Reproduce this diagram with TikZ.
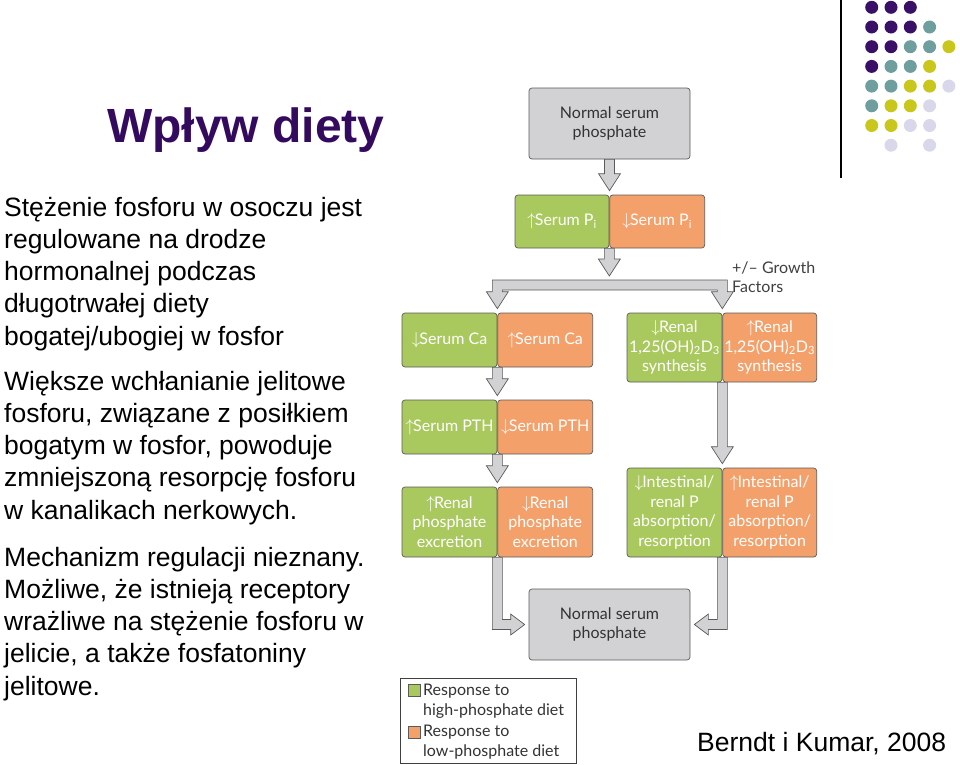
\documentclass[tikz,border=0pt]{standalone}
\usepackage{fontspec}
\setmainfont{Liberation Sans}
\newfontfamily\figfont{Lato}
\usetikzlibrary{calc}

\definecolor{hiphos}{HTML}{A9C95E}
\definecolor{lophos}{HTML}{F4A06B}
\definecolor{normbox}{HTML}{D2D2D4}
\definecolor{boxline}{HTML}{5A5A5A}
\definecolor{titlecol}{HTML}{330A5E}
\definecolor{dotP}{HTML}{3A0F68}
\definecolor{dotT}{HTML}{6F9E9F}
\definecolor{dotY}{HTML}{C9C71C}
\definecolor{dotL}{HTML}{D9D8EA}

\newcommand{\arrup}{$\uparrow$\kern-1pt}
\newcommand{\arrdn}{$\downarrow$\kern-1pt}

\tikzset{
  pbox/.style={draw=boxline, line width=0.7pt, rounded corners=3pt, inner sep=0pt, align=center, font=\figfont\fontsize{16}{19.5}\selectfont},
  hi/.style={pbox, fill=hiphos, text=white},
  lo/.style={pbox, fill=lophos, text=white},
  norm/.style={pbox, fill=normbox, text=black!80, minimum width=161pt, minimum height=71pt},
  fatarrow/.style={draw=boxline, fill=normbox, line width=0.7pt, line join=miter},
  dot/.style={circle, inner sep=0pt, minimum size=13pt},
  body/.style={anchor=base west, align=left, inner sep=0pt, font=\fontsize{26.5}{32.3}\selectfont},
  legtext/.style={anchor=base west, align=left, inner sep=0pt, text=black!80, font=\figfont\fontsize{16}{20}\selectfont},
}

% hollow down arrow from one anchor to the top of another
\newcommand{\fatdown}[2]{%
  \draw[fatarrow] let \p1=(#1), \p2=(#2) in
    (\x1-5pt,\y1) -- (\x1+5pt,\y1) -- (\x1+5pt,\y2+21pt) -- (\x1+11pt,\y2+21pt)
    -- (\x1,\y2+4pt) -- (\x1-11pt,\y2+21pt) -- (\x1-5pt,\y2+21pt) -- cycle;}

\begin{document}
\begin{tikzpicture}[x=1pt, y=-1pt]
\useasboundingbox (0,0) rectangle (960,764);

% slide text (base = last line)
\node[anchor=base west, inner sep=0pt, text=titlecol, font=\fontsize{48}{55}\selectfont\bfseries] (title) at (107,142) {Wpływ diety};
\node[body] (p1) at (4,345.2) {Stężenie fosforu w osoczu jest\\regulowane na drodze\\hormonalnej podczas\\długotrwałej diety\\bogatej/ubogiej w fosfor};
\node[body] (p2) at (4,519.2) {Większe wchłanianie jelitowe\\fosforu, związane z posiłkiem\\bogatym w fosfor, powoduje\\zmniejszoną resorpcję fosforu\\w kanalikach nerkowych.};
\node[body] (p3) at (4,695.2) {Mechanizm regulacji nieznany.\\Możliwe, że istnieją receptory\\wrażliwe na stężenie fosforu w\\jelicie, a także fosfatoniny\\jelitowe.};
\node[anchor=base west, inner sep=0pt, font=\fontsize{26.5}{32}\selectfont] (cite) at (697,751) {Berndt i Kumar, 2008};

% corner decoration
\draw[line width=1.5pt] (841,0) -- (841,178);
\foreach \c/\r/\col in {0/0/dotP,1/0/dotP,2/0/dotP,
    0/1/dotP,1/1/dotP,2/1/dotP,3/1/dotT,
    0/2/dotP,1/2/dotP,2/2/dotT,3/2/dotT,4/2/dotY,
    0/3/dotP,1/3/dotT,2/3/dotT,3/3/dotY,
    0/4/dotT,1/4/dotT,2/4/dotY,3/4/dotY,4/4/dotL,
    0/5/dotT,1/5/dotY,2/5/dotY,3/5/dotL,
    0/6/dotY,1/6/dotY,2/6/dotL,3/6/dotL,
    1/7/dotL,3/7/dotL}
  \node[dot, fill=\col] (d\c\r) at ({871.7+19.3*\c},{7.3+19.7*\r}) {};

% diagram boxes
\node[norm] (NormT) at (609.5,123.5) {Normal serum\\phosphate};
\node[hi, minimum width=94pt, minimum height=53pt] (PiH) at (562,221.5) {\arrup Serum P\textsubscript{i}};
\node[lo, minimum width=95pt, minimum height=53pt, anchor=west] (PiL) at (PiH.east) {\arrdn Serum P\textsubscript{i}};

\node[hi, minimum width=95pt, minimum height=54pt] (CaH) at (449.5,340) {\arrdn Serum Ca};
\node[lo, minimum width=95pt, minimum height=54pt, anchor=west] (CaL) at (CaH.east) {\arrup Serum Ca};
\node[hi, minimum width=95pt, minimum height=54pt] (PthH) at (449.5,427) {\arrup Serum PTH};
\node[lo, minimum width=95pt, minimum height=54pt, anchor=west] (PthL) at (PthH.east) {\arrdn Serum PTH};
\node[hi, minimum width=95pt, minimum height=70pt] (RenH) at (449.5,522) {\arrup Renal\\phosphate\\excretion};
\node[lo, minimum width=95pt, minimum height=70pt, anchor=west] (RenL) at (RenH.east) {\arrdn Renal\\phosphate\\excretion};

\node[hi, minimum width=95pt, minimum height=69pt] (SynH) at (674.5,347.5) {\arrdn Renal\\1,25(OH)\textsubscript{2}D\textsubscript{3}\\synthesis};
\node[lo, minimum width=94pt, minimum height=69pt, anchor=west] (SynL) at (SynH.east) {\arrup Renal\\1,25(OH)\textsubscript{2}D\textsubscript{3}\\synthesis};
\node[hi, minimum width=95pt, minimum height=89pt] (IntH) at (674.5,512.5) {\arrdn Intestinal/\\renal P\\absorption/\\resorption};
\node[lo, minimum width=94pt, minimum height=89pt, anchor=west] (IntL) at (IntH.east) {\arrup Intestinal/\\renal P\\absorption/\\resorption};

\node[norm] (NormB) at (609.5,624.5) {Normal serum\\phosphate};

\node[anchor=north west, align=left, inner sep=0pt, text=black!75, font=\figfont\fontsize{16}{19}\selectfont] (GF) at (732,262) {+/\textendash{} Growth\\Factors};

% hollow arrows
\coordinate (bar) at (609,280);
\fatdown{NormT.south}{PiH.north east}
\fatdown{PiH.south east}{bar}
\draw[fatarrow] let \p1=(bar), \p2=(CaH.north east), \p3=(SynH.north east) in
  (\x2-5pt,\y1) -- (\x3+5pt,\y1) -- (\x3+5pt,\y2+21pt) -- (\x3+11pt,\y2+21pt)
  -- (\x3,\y2+4pt) -- (\x3-11pt,\y2+21pt) -- (\x3-5pt,\y2+21pt) -- (\x3-5pt,\y1-10pt)
  -- (\x2+5pt,\y1-10pt) -- (\x2+5pt,\y2+21pt) -- (\x2+11pt,\y2+21pt)
  -- (\x2,\y2+4pt) -- (\x2-11pt,\y2+21pt) -- (\x2-5pt,\y2+21pt) -- cycle;
\fatdown{CaH.south east}{PthH.north east}
\fatdown{PthH.south east}{RenH.north east}
\fatdown{SynH.south east}{IntH.north east}
\draw[fatarrow] let \p1=(RenH.south east), \p2=(NormB.west) in
  (\x1-5pt,\y1) -- (\x1+5pt,\y1) -- (\x1+5pt,\y2+5pt) -- (\x2-18pt,\y2+5pt)
  -- (\x2-18pt,\y2+10.5pt) -- (\x2-4pt,\y2) -- (\x2-18pt,\y2-10.5pt)
  -- (\x2-18pt,\y2-5pt) -- (\x1-5pt,\y2-5pt) -- cycle;
\draw[fatarrow] let \p1=(IntH.south east), \p2=(NormB.east) in
  (\x1+5pt,\y1) -- (\x1-5pt,\y1) -- (\x1-5pt,\y2+5pt) -- (\x2+18pt,\y2+5pt)
  -- (\x2+18pt,\y2+10.5pt) -- (\x2+4pt,\y2) -- (\x2+18pt,\y2-10.5pt)
  -- (\x2+18pt,\y2-5pt) -- (\x1+5pt,\y2-5pt) -- cycle;

% legend
\node[draw=black!75, line width=0.8pt, minimum width=176pt, minimum height=85pt, inner sep=0pt] (Leg) at (488,720.5) {};
\node[draw=boxline, line width=0.5pt, fill=hiphos, minimum size=12pt, inner sep=0pt] (SqH) at (414,690) {};
\node[legtext] (TxH) at (423,715.5) {Response to\\high-phosphate diet};
\node[draw=boxline, line width=0.5pt, fill=lophos, minimum size=12pt, inner sep=0pt] (SqL) at (414,732) {};
\node[legtext] (TxL) at (423,756) {Response to\\low-phosphate diet};
\end{tikzpicture}
\end{document}
